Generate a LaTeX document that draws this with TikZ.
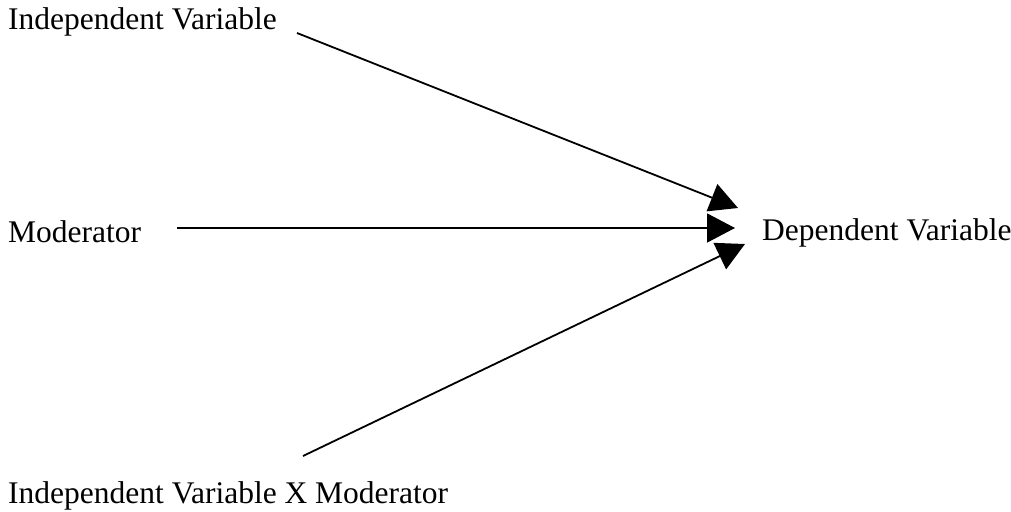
\documentclass[tikz,border=0pt]{standalone}
\usepackage{fontspec}
\setmainfont{Liberation Serif}
\usetikzlibrary{arrows.meta}
\begin{document}
\begin{tikzpicture}[x=1pt,y=-1pt,
  lbl/.style={anchor=base west,inner sep=0pt,font=\fontsize{31.5}{38}\selectfont},
  conn/.style={line width=1.8pt,-{Triangle[length=28pt,width=29pt]}}]
\useasboundingbox (0,0) rectangle (1011,511);
\node[lbl] (iv) at (8,30) {Independent Variable};
\node[lbl] (mod) at (8,242) {Moderator};
\node[lbl] (ivx) at (8,503) {Independent Variable X Moderator};
\node[lbl] (dv) at (762,240) {Dependent Variable};
\coordinate (ivs) at (297,33);
\coordinate (mods) at (177,228);
\coordinate (ivxs) at (303,456);
\coordinate (t1) at (738,208);
\coordinate (t2) at (735,228);
\coordinate (t3) at (745,244);
\draw[conn] (ivs) -- (t1);
\draw[conn] (mods) -- (t2);
\draw[conn] (ivxs) -- (t3);
\end{tikzpicture}
\end{document}
